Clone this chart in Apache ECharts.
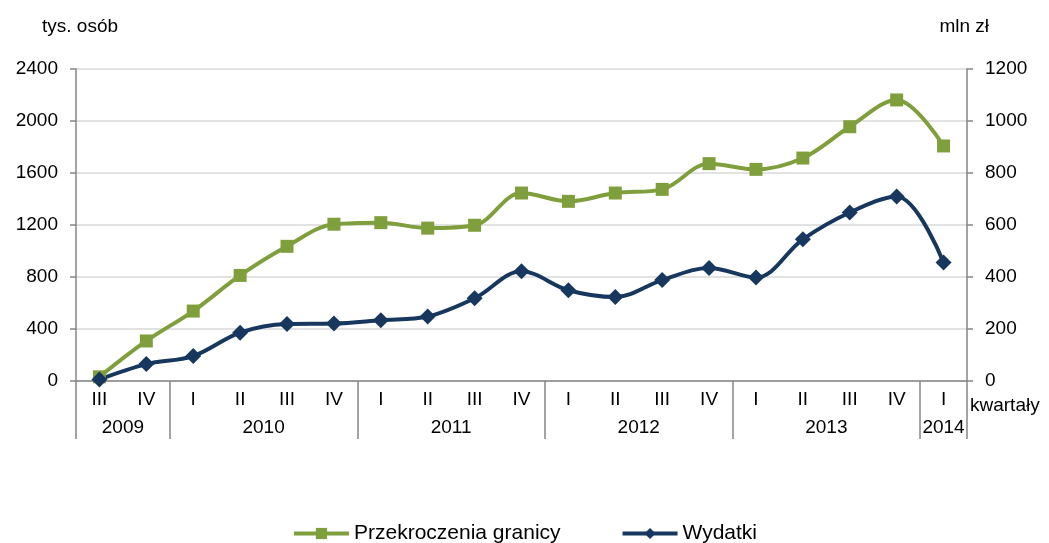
<!DOCTYPE html>
<html>
<head>
<meta charset="utf-8">
<script src="https://cdn.jsdelivr.net/npm/echarts@6/dist/echarts.min.js"></script>
<style>
  html, body { margin: 0; padding: 0; background: #fff; }
  #chart { width: 1049px; height: 543px; }
</style>
</head>
<body>
<div id="chart"></div>
<script>
// kwartały
const quarters = ['III', 'IV', 'I', 'II', 'III', 'IV', 'I', 'II', 'III', 'IV', 'I', 'II', 'III', 'IV', 'I', 'II', 'III', 'IV', 'I']
// lata - podpisy i granice (w jednostkach kategorii)
const years = ['2009', '2010', '2011', '2012', '2013', '2014']
const yearCenters = [1, 4, 8, 12, 16, 18.5]
const yearBounds = [0, 2, 6, 10, 14, 18, 19]
// tys. osób
const crossings = [32, 308, 538, 812, 1036, 1206, 1218, 1176, 1198, 1446, 1382, 1446, 1474, 1672, 1628, 1715, 1956, 2162, 1808]
// mln zł
const spending = [6, 65, 96, 186, 219, 221, 234, 248, 318, 422, 349, 323, 388, 435, 398, 545, 648, 710, 456]

const axisGray = '#868686'
const txt = { color: '#000', fontFamily: 'Liberation Sans', fontSize: 19 }

const chart = echarts.init(document.getElementById('chart'))
chart.setOption({
  animation: false,
  textStyle: { fontFamily: 'Liberation Sans' },
  grid: { left: 76, right: 82, top: 69, bottom: 162, containLabel: false },
  legend: {
    top: 518,
    left: 'center',
    itemWidth: 55,
    itemHeight: 14,
    itemGap: 60,
    lineStyle: { width: 4 },
    textStyle: { ...txt, fontSize: 21 },
    data: ['Przekroczenia granicy', 'Wydatki']
  },
  xAxis: [{
    type: 'category',
    data: quarters,
    boundaryGap: true,
    name: 'kwartały',
    nameLocation: 'end',
    nameGap: 3,
    nameTextStyle: { ...txt, verticalAlign: 'top', padding: [15, 0, 0, 0] },
    axisLine: { lineStyle: { color: axisGray, width: 1.5 } },
    axisTick: { interval: 0, length: 29, lineStyle: { color: axisGray, width: 1.5 } },
    axisLabel: { ...txt, interval: 0, margin: 9 },
    splitLine: { show: false }
  }, {
    type: 'value',
    min: 0,
    max: 19,
    position: 'bottom',
    axisLine: { show: false },
    axisTick: { show: true, customValues: yearBounds, length: 58, lineStyle: { color: axisGray, width: 1.5 } },
    axisLabel: {
      ...txt,
      customValues: yearCenters,
      margin: 37,
      formatter: (v) => years[yearCenters.indexOf(v)] || ''
    },
    splitLine: { show: false }
  }],
  yAxis: [{
    type: 'value',
    min: 0,
    max: 2400,
    interval: 400,
    name: 'tys. osób',
    nameLocation: 'end',
    nameGap: 33,
    nameTextStyle: { ...txt, align: 'left', padding: [0, 0, 0, -34] },
    axisLine: { show: true, lineStyle: { color: axisGray, width: 1.5 } },
    axisTick: { show: true, length: 6, lineStyle: { color: axisGray, width: 1.5 } },
    axisLabel: { ...txt, margin: 18, formatter: (v) => String(v) },
    splitLine: { lineStyle: { color: '#d9d9d9', width: 1.5 } }
  }, {
    type: 'value',
    min: 0,
    max: 1200,
    interval: 200,
    name: 'mln zł',
    nameLocation: 'end',
    nameGap: 33,
    nameTextStyle: { ...txt, align: 'right', padding: [0, -22, 0, 0] },
    axisLine: { show: true, lineStyle: { color: axisGray, width: 1.5 } },
    axisTick: { show: true, length: 6, lineStyle: { color: axisGray, width: 1.5 } },
    axisLabel: { ...txt, margin: 18, formatter: (v) => String(v) },
    splitLine: { show: false }
  }],
  series: [{
    name: 'Przekroczenia granicy',
    type: 'line',
    xAxisIndex: 0,
    yAxisIndex: 0,
    data: crossings,
    smooth: 0.35,
    symbol: 'rect',
    symbolSize: 13,
    lineStyle: { color: '#7f9f3d', width: 4 },
    itemStyle: { color: '#7f9f3d' }
  }, {
    name: 'Wydatki',
    type: 'line',
    xAxisIndex: 0,
    yAxisIndex: 1,
    data: spending,
    smooth: 0.35,
    symbol: 'diamond',
    symbolSize: 16,
    lineStyle: { color: '#17375e', width: 4 },
    itemStyle: { color: '#17375e' }
  }]
})
</script>
</body>
</html>
